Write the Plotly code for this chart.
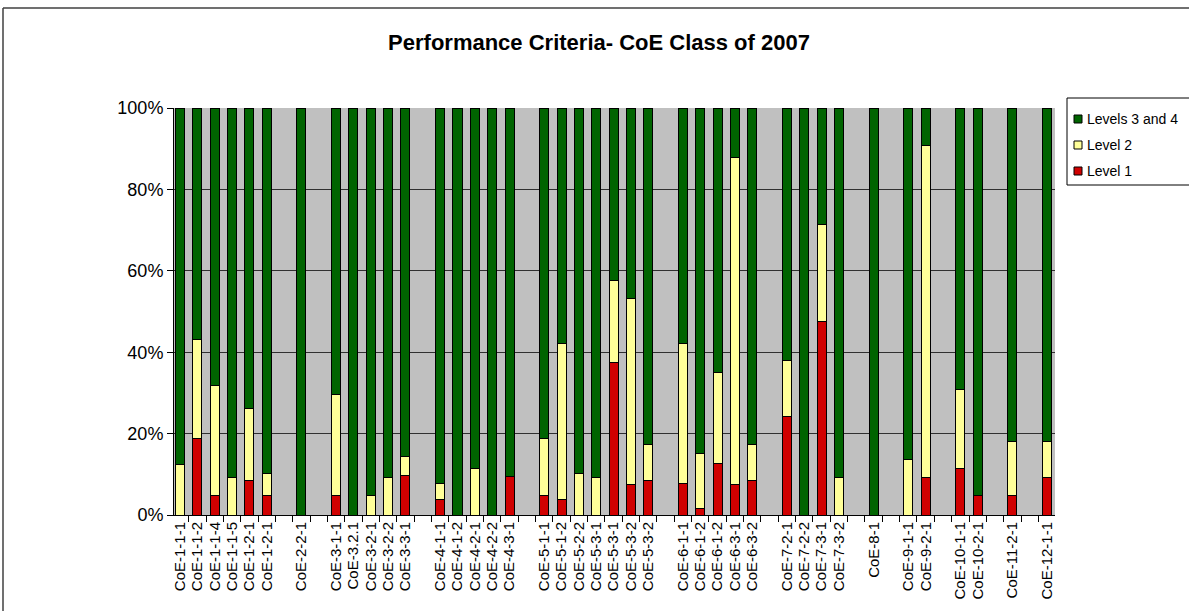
import plotly.graph_objects as go

# Category labels ("" = empty slot between groups)
labels = [
    "CoE-1-1-1", "CoE-1-1-2", "CoE-1-1-4", "CoE-1-1-5", "CoE-1-2-1", "CoE-1-2-1", "",
    "CoE-2-2-1", "",
    "CoE-3-1-1", "CoE-3.2.1", "CoE-3-2-1", "CoE-3-2-2", "CoE-3-3-1", "",
    "CoE-4-1-1", "CoE-4-1-2", "CoE-4-2-1", "CoE-4-2-2", "CoE-4-3-1", "",
    "CoE-5-1-1", "CoE-5-1-2", "CoE-5-2-2", "CoE-5-3-1", "CoE-5-3-1", "CoE-5-3-2", "CoE-5-3-2", "",
    "CoE-6-1-1", "CoE-6-1-2", "CoE-6-1-2", "CoE-6-3-1", "CoE-6-3-2", "",
    "CoE-7-2-1", "CoE-7-2-2", "CoE-7-3-1", "CoE-7-3-2", "",
    "CoE-8-1", "",
    "CoE-9-1-1", "CoE-9-2-1", "",
    "CoE-10-1-1", "CoE-10-2-1", "",
    "CoE-11-2-1", "",
    "CoE-12-1-1",
]

# Percent values per series (None = empty slot)
level1 = [
    0, 18.9, 4.7, 0, 8.6, 4.9, None,
    0, None,
    4.7, 0, 0, 0, 9.6, None,
    3.9, 0, 0, 0, 9.5, None,
    4.7, 3.7, 0, 0, 37.4, 7.4, 8.6, None,
    7.7, 1.6, 12.6, 7.4, 8.6, None,
    24.1, 0, 47.6, 0, None,
    0, None,
    0, 9.2, None,
    11.5, 4.7, None,
    4.7, None,
    9.2,
]
level2 = [
    12.5, 24.1, 27.0, 9.2, 17.6, 5.2, None,
    0, None,
    24.8, 0, 4.7, 9.2, 4.8, None,
    3.8, 0, 11.5, 0, 0, None,
    14.2, 38.5, 10.1, 9.2, 20.1, 45.9, 8.8, None,
    34.5, 13.4, 22.5, 80.4, 8.8, None,
    13.9, 0, 23.8, 9.2, None,
    0, None,
    13.6, 81.7, None,
    19.4, 0, None,
    13.4, None,
    8.9,
]
level34 = [
    87.5, 57.0, 68.3, 90.8, 73.8, 89.9, None,
    100, None,
    70.5, 100, 95.3, 90.8, 85.6, None,
    92.3, 100, 88.5, 100, 90.5, None,
    81.1, 57.8, 89.9, 90.8, 42.5, 46.7, 82.6, None,
    57.8, 85.0, 64.9, 12.2, 82.6, None,
    62.0, 100, 28.6, 90.8, None,
    100, None,
    86.4, 9.1, None,
    69.1, 95.3, None,
    81.9, None,
    81.9,
]

series_names = ["Level 1", "Level 2", "Levels 3 and 4"]
series_colors = ["#D00000", "#FFFF99", "#006400"]

xs = list(range(len(labels)))
tick_pos = [i for i, t in enumerate(labels) if t]
tick_txt = [t for t in labels if t]

FONT = "Arial, 'Liberation Sans', sans-serif"
line = dict(color="black", width=1)

fig = go.Figure()
for name, vals, col in zip(series_names, [level1, level2, level34], series_colors):
    fig.add_trace(go.Bar(x=xs, y=vals, name=name, width=0.52, showlegend=False,
                         marker=dict(color=col, line=line)))

W, H = 1189, 611
L, R, T, B = 174, 1055, 108, 515
pw, ph = R - L, B - T

def px(xp):
    return (xp - L) / pw

def py(yp):
    return (B - yp) / ph

shapes = [
    # outer chart border (top & left visible)
    dict(type="line", xref="paper", yref="paper",
         x0=px(3), y0=py(8), x1=px(1195), y1=py(8),
         line=dict(color="#404040", width=1.5)),
    dict(type="line", xref="paper", yref="paper",
         x0=px(3), y0=py(8), x1=px(3), y1=py(620),
         line=dict(color="#404040", width=1.5)),
    # legend box
    dict(type="rect", xref="paper", yref="paper",
         x0=px(1067), y0=py(98), x1=px(1200), y1=py(185),
         line=dict(color="black", width=1), fillcolor="white"),
]
annotations = []
# legend entries, top to bottom: reversed series order
leg_rows = [119, 145, 171]
for yrow, name, col in zip(leg_rows, series_names[::-1], series_colors[::-1]):
    shapes.append(dict(type="rect", xref="paper", yref="paper",
                       x0=px(1074), y0=py(yrow - 4), x1=px(1082), y1=py(yrow + 4),
                       line=dict(color="black", width=1), fillcolor=col))
    annotations.append(dict(xref="paper", yref="paper", x=px(1085), y=py(yrow),
                            xanchor="left", yanchor="middle", showarrow=False,
                            text=name, font=dict(family=FONT, size=14, color="black")))

fig.update_layout(
    width=W, height=H,
    barmode="stack",
    paper_bgcolor="white",
    plot_bgcolor="#C0C0C0",
    margin=dict(l=L, r=W - R, t=T, b=H - B, pad=0),
    font=dict(family=FONT, color="black", size=12),
    title=dict(text="<b>Performance Criteria- CoE Class of 2007</b>",
               x=599 / W, xanchor="center", xref="container",
               y=1 - 42 / H, yanchor="middle", yref="container",
               font=dict(family=FONT, size=22, color="black")),
    showlegend=False,
    shapes=shapes,
    annotations=annotations,
)

fig.update_xaxes(
    range=[-0.35, 50.46],
    tickmode="array", tickvals=tick_pos, ticktext=tick_txt,
    tickangle=-90, ticks="",
    tickfont=dict(family=FONT, size=15, color="black"),
    showline=True, linecolor="black", linewidth=1,
    showgrid=False, zeroline=False,
    minor=dict(tickmode="linear", tick0=-0.5, dtick=1, ticks="outside",
               ticklen=6, tickcolor="black", showgrid=False),
)
fig.update_yaxes(
    range=[0, 100],
    tickvals=[0, 20, 40, 60, 80, 100],
    ticktext=["0%", "20%", "40%", "60%", "80%", "100%"],
    ticks="outside", ticklen=6, tickcolor="black",
    tickfont=dict(family=FONT, size=18, color="black"),
    showline=True, linecolor="black", linewidth=1,
    showgrid=True, gridcolor="#303030", gridwidth=1,
    zeroline=False,
)

fig.write_html("out.html",
               config={"displayModeBar": False},
               post_script="document.body.style.margin='0px';document.body.style.overflow='hidden';")
